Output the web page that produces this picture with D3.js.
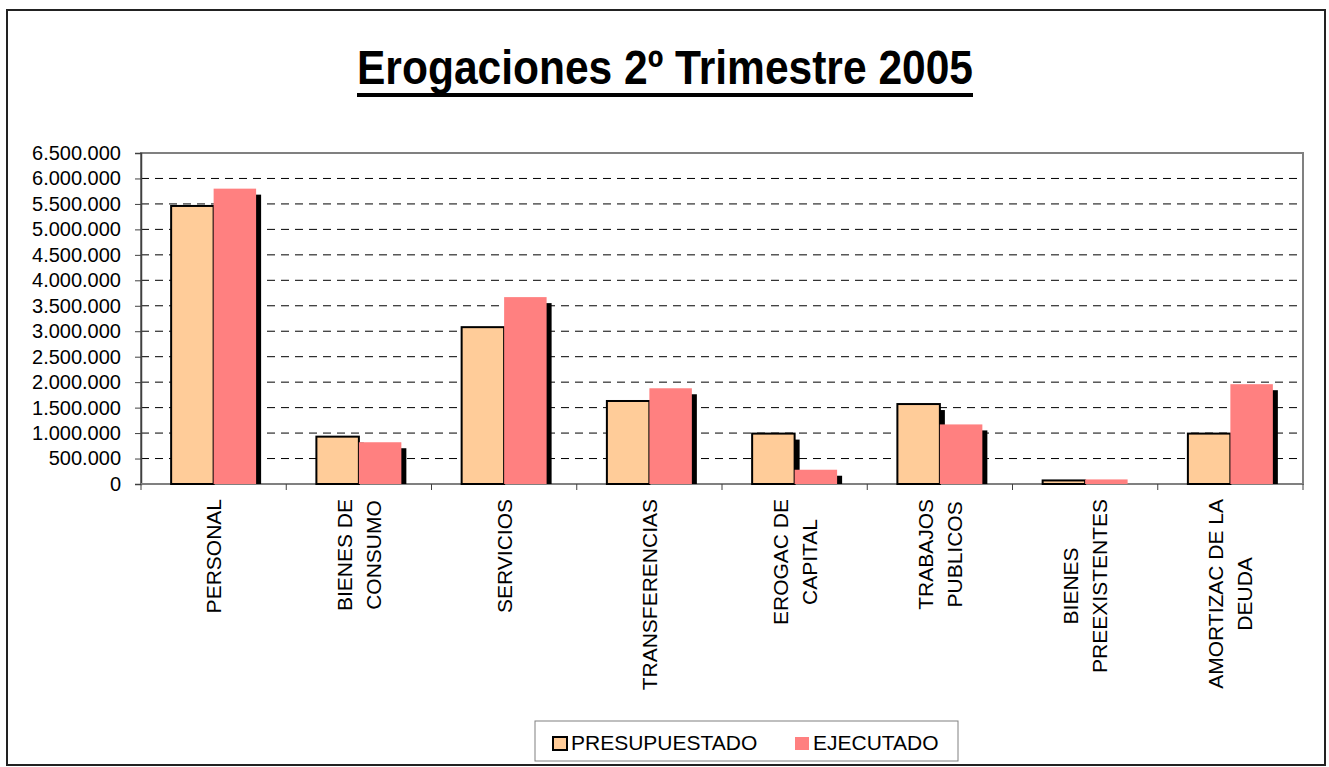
<!DOCTYPE html>
<html lang="es">
<head>
    <meta charset="UTF-8">
    <title>Erogaciones 2º Trimestre 2005</title>
    <script src="https://d3js.org/d3.v7.min.js"></script>
    <style>
        body { margin: 0; background: #fff; }
        svg { display: block; font-family: Arial, "Liberation Sans", sans-serif; }
    </style>
</head>
<body>
    <svg id="chart" width="1329" height="767"></svg>
    <script>
        const categories = [
            ["PERSONAL"],
            ["BIENES DE", "CONSUMO"],
            ["SERVICIOS"],
            ["TRANSFERENCIAS"],
            ["EROGAC DE", "CAPITAL"],
            ["TRABAJOS", "PUBLICOS"],
            ["BIENES", "PREEXISTENTES"],
            ["AMORTIZAC DE LA", "DEUDA"]
        ];
        const presupuestado = [5460000, 930000, 3080000, 1630000, 990000, 1570000, 70000, 990000];
        const ejecutado = [5800000, 820000, 3670000, 1880000, 280000, 1170000, 90000, 1960000];
        const seriesNames = ["PRESUPUESTADO", "EJECUTADO"];
        const yTicks = d3.range(0, 6500001, 500000);

        const colors = { PRESUPUESTADO: "#FFCC99", EJECUTADO: "#FF8080" };

        const svg = d3.select("#chart");
        const plot = { left: 141, right: 1303, top: 153, bottom: 484 };

        // outer frame
        svg.append("rect")
            .attr("x", 7).attr("y", 10).attr("width", 1318).attr("height", 755)
            .attr("fill", "#fff").attr("stroke", "#222").attr("stroke-width", 2);

        // title
        const titleW = 616;
        svg.append("text")
            .attr("x", 665).attr("y", 84)
            .attr("text-anchor", "middle")
            .attr("font-size", 48).attr("font-weight", "bold")
            .attr("textLength", titleW).attr("lengthAdjust", "spacingAndGlyphs")
            .text("Erogaciones 2º Trimestre 2005");
        svg.append("rect")
            .attr("x", 665 - titleW / 2).attr("y", 93)
            .attr("width", titleW).attr("height", 4).attr("fill", "#000");

        const fmt = d3.formatLocale({ decimal: ",", thousands: ".", grouping: [3], currency: ["", ""] }).format(",");

        const y = d3.scaleLinear().domain([0, 6500000]).range([plot.bottom, plot.top]);
        const keys = d3.range(categories.length);
        const x0 = d3.scaleBand().domain(keys).range([plot.left, plot.right])
            .paddingInner(0.415).paddingOuter(0.2075);
        const x1 = d3.scaleBand().domain(seriesNames).range([0, x0.bandwidth()]);
        const step = x0.step();

        // plot area border
        svg.append("rect")
            .attr("x", plot.left).attr("y", plot.top)
            .attr("width", plot.right - plot.left).attr("height", plot.bottom - plot.top)
            .attr("fill", "#fff").attr("stroke", "#808080").attr("stroke-width", 2);

        // dashed gridlines
        svg.append("g").selectAll("line")
            .data(yTicks.filter(d => d > 0 && d < 6500000))
            .join("line")
            .attr("x1", plot.left).attr("x2", plot.right - 1)
            .attr("y1", d => y(d)).attr("y2", d => y(d))
            .attr("stroke", "#000").attr("stroke-width", 1)
            .attr("stroke-dasharray", "8,6");

        // y axis
        const yAxis = svg.append("g")
            .attr("transform", `translate(${plot.left},0)`)
            .call(d3.axisLeft(y).tickValues(yTicks).tickFormat(fmt).tickSize(6).tickPadding(14));
        yAxis.select(".domain").attr("stroke", "#404040").attr("stroke-width", 1.5);
        yAxis.selectAll(".tick line").attr("stroke", "#404040");
        yAxis.selectAll(".tick text")
            .attr("font-size", 20).attr("fill", "#000")
            .attr("font-family", "Arial, 'Liberation Sans', sans-serif");

        // bottom axis line + category ticks
        svg.append("line")
            .attr("x1", plot.left).attr("x2", plot.right)
            .attr("y1", plot.bottom).attr("y2", plot.bottom)
            .attr("stroke", "#808080").attr("stroke-width", 2);
        svg.append("g").selectAll("line")
            .data(d3.range(categories.length + 1))
            .join("line")
            .attr("x1", i => plot.left + i * step).attr("x2", i => plot.left + i * step)
            .attr("y1", plot.bottom).attr("y2", plot.bottom + 6)
            .attr("stroke", "#404040").attr("stroke-width", 1);

        // bars
        const rows = keys.map(i => [
            { key: "PRESUPUESTADO", i, v: presupuestado[i] },
            { key: "EJECUTADO", i, v: ejecutado[i] }
        ]);
        const sdx = 5, sdy = 6;
        const groups = svg.append("g").selectAll("g")
            .data(rows).join("g")
            .attr("transform", d => `translate(${x0(d[0].i)},0)`);

        groups.selectAll(".shadow")
            .data(d => d).join("rect")
            .attr("class", "shadow")
            .attr("x", d => x1(d.key) + sdx)
            .attr("y", d => y(d.v) + sdy)
            .attr("width", x1.bandwidth())
            .attr("height", d => Math.max(0, plot.bottom - y(d.v) - sdy))
            .attr("fill", "#000");

        groups.selectAll(".bar")
            .data(d => d).join("rect")
            .attr("class", "bar")
            .attr("x", d => x1(d.key))
            .attr("y", d => y(d.v))
            .attr("width", x1.bandwidth())
            .attr("height", d => plot.bottom - y(d.v))
            .attr("fill", d => colors[d.key])
            .attr("stroke", d => d.key === "PRESUPUESTADO" ? "#000" : "none")
            .attr("stroke-width", 2);

        // rotated category labels
        const lineGap = 29;
        const labelTop = 499;
        categories.forEach((lines, i) => {
            const cx = x0(i) + x0.bandwidth() / 2;
            const g = svg.append("g");
            const texts = lines.map((t, j) => g.append("text")
                .attr("font-size", 21)
                .attr("text-anchor", "middle")
                .attr("transform", "rotate(-90)")
                .attr("y", cx + (j - (lines.length - 1) / 2) * lineGap + 7.5)
                .text(t));
            const L = d3.max(texts, t => t.node().getComputedTextLength());
            texts.forEach(t => t.attr("x", -(labelTop + L / 2)));
        });

        // legend
        const legend = svg.append("g");
        legend.append("rect")
            .attr("x", 535).attr("y", 721).attr("width", 423).attr("height", 40)
            .attr("fill", "#fff").attr("stroke", "#808080").attr("stroke-width", 1);
        const legendX = [553, 795];
        seriesNames.forEach((name, k) => {
            legend.append("rect")
                .attr("x", legendX[k]).attr("y", 737)
                .attr("width", 14).attr("height", 13)
                .attr("fill", colors[name])
                .attr("stroke", name === "PRESUPUESTADO" ? "#000" : "none")
                .attr("stroke-width", 2);
            legend.append("text")
                .attr("x", legendX[k] + 18).attr("y", 750)
                .attr("font-size", 21)
                .text(name);
        });
    </script>
</body>
</html>
